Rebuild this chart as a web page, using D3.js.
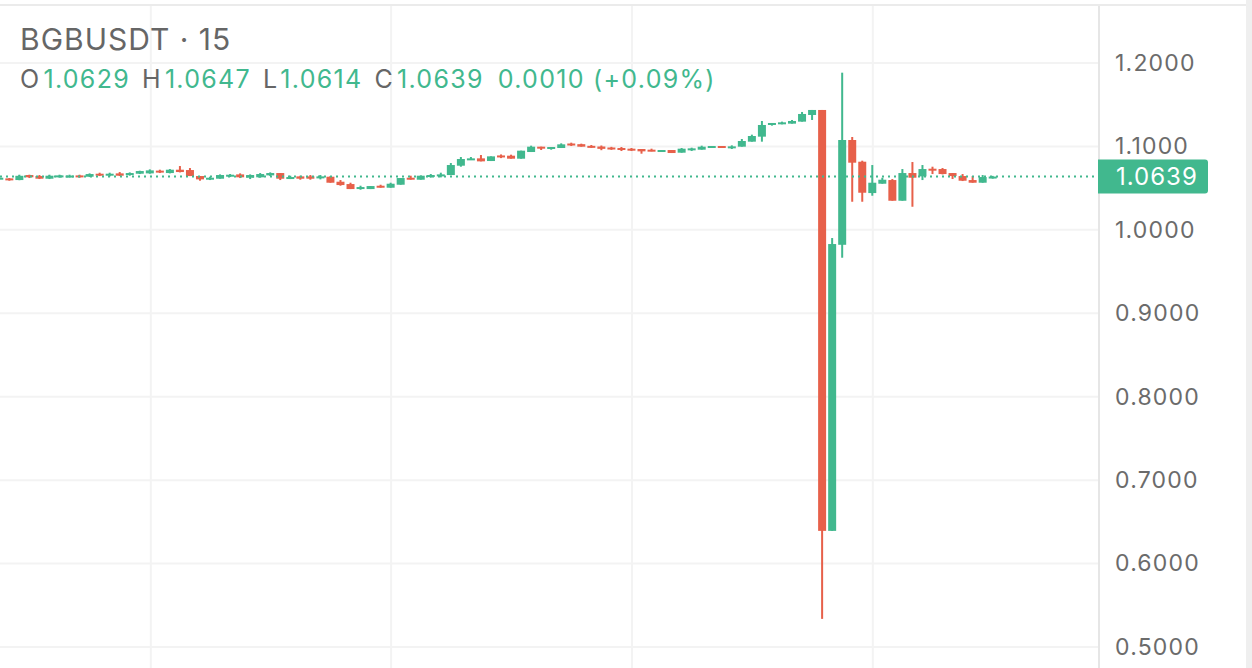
<!DOCTYPE html>
<html>
<head>
<meta charset="utf-8">
<script src="https://cdn.jsdelivr.net/npm/d3@7"></script>
<style>
  html, body { margin: 0; padding: 0; background: #fff; }
  svg { display: block; font-family: Inter, "Noto Sans", sans-serif; }
</style>
</head>
<body>
<svg width="1252" height="668"></svg>
<script>
// BGBUSDT 15m candles, oldest first
var opens = [
  1.0615, 1.0617, 1.0597, 1.0657, 1.0645, 1.0613, 1.0633, 1.0633, 1.0653, 1.0637,
  1.0673, 1.0650, 1.0677, 1.0657, 1.0673, 1.0677, 1.0710, 1.0681, 1.0721, 1.0717,
  1.0645, 1.0601, 1.0613, 1.0637, 1.0665, 1.0625, 1.0630, 1.0653, 1.0681, 1.0613,
  1.0641, 1.0641, 1.0617, 1.0637, 1.0577, 1.0549, 1.0489, 1.0489, 1.0529, 1.0505,
  1.0541, 1.0625, 1.0601, 1.0633, 1.0641, 1.0657, 1.0769, 1.0837, 1.0857, 1.0825,
  1.0892, 1.0889, 1.0853, 1.0933, 1.0997, 1.0973, 1.0981, 1.1035, 1.1027, 1.1007,
  1.0999, 1.0987, 1.0981, 1.0973, 1.0969, 1.0961, 1.0937, 1.0957, 1.0925, 1.0953,
  1.0961, 1.0985, 1.1005, 1.0981, 1.0997, 1.1057, 1.1117, 1.1261, 1.1265, 1.1273,
  1.1297, 1.1377, 1.1437, 0.6392, 0.9821, 1.1077, 1.0817, 1.0441, 1.0553, 1.0597,
  1.0349, 1.0681, 1.0641, 1.0733, 1.0729, 1.0681, 1.0645, 1.0597, 1.0565, 1.0629
];
var highs = [
  1.0630, 1.0621, 1.0661, 1.0661, 1.0657, 1.0661, 1.0661, 1.0661, 1.0661, 1.0677,
  1.0685, 1.0685, 1.0693, 1.0689, 1.0709, 1.0725, 1.0721, 1.0729, 1.0765, 1.0741,
  1.0645, 1.0637, 1.0665, 1.0669, 1.0677, 1.0665, 1.0681, 1.0689, 1.0681, 1.0649,
  1.0649, 1.0657, 1.0657, 1.0645, 1.0597, 1.0565, 1.0529, 1.0525, 1.0541, 1.0565,
  1.0621, 1.0649, 1.0649, 1.0669, 1.0685, 1.0801, 1.0873, 1.0873, 1.0897, 1.0881,
  1.0904, 1.0901, 1.0949, 1.1009, 1.0997, 1.0993, 1.1037, 1.1045, 1.1033, 1.1017,
  1.1011, 1.0995, 1.0993, 1.0981, 1.0969, 1.0973, 1.0957, 1.0957, 1.0981, 1.0985,
  1.1009, 1.1005, 1.1005, 1.1013, 1.1089, 1.1141, 1.1305, 1.1281, 1.1297, 1.1317,
  1.1413, 1.1437, 1.1437, 0.9902, 1.1884, 1.1113, 1.0829, 1.0777, 1.0625, 1.0609,
  1.0729, 1.0813, 1.0777, 1.0757, 1.0741, 1.0681, 1.0669, 1.0645, 1.0657, 1.0647
];
var lows = [
  1.0610, 1.0589, 1.0595, 1.0621, 1.0609, 1.0609, 1.0625, 1.0627, 1.0625, 1.0633,
  1.0645, 1.0641, 1.0645, 1.0649, 1.0669, 1.0673, 1.0681, 1.0677, 1.0689, 1.0645,
  1.0589, 1.0597, 1.0613, 1.0633, 1.0621, 1.0609, 1.0625, 1.0645, 1.0597, 1.0609,
  1.0601, 1.0601, 1.0605, 1.0565, 1.0529, 1.0489, 1.0481, 1.0489, 1.0505, 1.0505,
  1.0541, 1.0601, 1.0601, 1.0625, 1.0629, 1.0657, 1.0757, 1.0837, 1.0821, 1.0825,
  1.0860, 1.0853, 1.0853, 1.0933, 1.0957, 1.0961, 1.0981, 1.1005, 1.0997, 1.0983,
  1.0955, 1.0959, 1.0945, 1.0945, 1.0913, 1.0941, 1.0937, 1.0921, 1.0925, 1.0945,
  1.0961, 1.0985, 1.0985, 1.0969, 1.0997, 1.1057, 1.1057, 1.1249, 1.1265, 1.1273,
  1.1297, 1.1317, 0.5337, 0.6392, 0.9666, 1.0337, 1.0337, 1.0409, 1.0553, 1.0349,
  1.0349, 1.0277, 1.0597, 1.0669, 1.0665, 1.0609, 1.0585, 1.0565, 1.0565, 1.0614
];
var closes = [
  1.0625, 1.0596, 1.0648, 1.0630, 1.0613, 1.0649, 1.0653, 1.0651, 1.0630, 1.0669,
  1.0649, 1.0673, 1.0649, 1.0681, 1.0705, 1.0713, 1.0687, 1.0721, 1.0693, 1.0645,
  1.0605, 1.0625, 1.0657, 1.0661, 1.0630, 1.0657, 1.0669, 1.0681, 1.0613, 1.0633,
  1.0613, 1.0613, 1.0641, 1.0565, 1.0537, 1.0489, 1.0513, 1.0525, 1.0505, 1.0553,
  1.0621, 1.0601, 1.0649, 1.0657, 1.0665, 1.0777, 1.0849, 1.0857, 1.0821, 1.0881,
  1.0868, 1.0853, 1.0949, 1.0997, 1.0973, 1.0993, 1.1025, 1.1012, 1.0997, 1.0983,
  1.0971, 1.0967, 1.0957, 1.0953, 1.0941, 1.0941, 1.0957, 1.0921, 1.0973, 1.0977,
  1.0997, 1.1005, 1.0985, 1.1001, 1.1065, 1.1125, 1.1257, 1.1281, 1.1289, 1.1305,
  1.1389, 1.1437, 0.6392, 0.9830, 1.1077, 1.0805, 1.0445, 1.0565, 1.0601, 1.0349,
  1.0681, 1.0625, 1.0729, 1.0717, 1.0669, 1.0645, 1.0589, 1.0565, 1.0633, 1.0639
];

var priceTicks = [0.5, 0.6, 0.7, 0.8, 0.9, 1.0, 1.1, 1.2];
var timeGridIndex = [15.1, 39.05, 63.05, 87.05];   // 6h session grid
var symbol = "BGBUSDT \u00b7 15";
var lastPrice = 1.0639;
var change = "0.0010 (+0.09%)";

var UP = "#41b88e", DOWN = "#e7604a";

var svg = d3.select("svg"),
    plotRight = 1098,
    plotTop = 63, plotBottom = 647;

var candles = opens.map(function (o, i) {
    return {i: i, o: o, h: highs[i], l: lows[i], c: closes[i]};
});

var x = d3.scaleLinear().domain([0, candles.length - 1]).range([-0.7, 992.7]);
var y = d3.scaleLinear().domain([0.5, 1.2]).range([plotBottom, plotTop]);

// frame lines
svg.append("rect").attr("x", 0).attr("y", 4).attr("width", 1246).attr("height", 2).attr("fill", "#ebebeb");
svg.append("rect").attr("x", 1246).attr("y", 0).attr("width", 6).attr("height", 668).attr("fill", "#efefef");

// grid
var grid = svg.append("g").attr("class", "grid");
grid.selectAll(".hgrid").data(priceTicks).enter().append("line")
    .attr("x1", 0).attr("x2", plotRight)
    .attr("y1", function (d) { return y(d); })
    .attr("y2", function (d) { return y(d); })
    .attr("stroke", "#f3f3f3").attr("stroke-width", 2);
grid.selectAll(".vgrid").data(timeGridIndex).enter().append("line")
    .attr("x1", function (d) { return x(d); })
    .attr("x2", function (d) { return x(d); })
    .attr("y1", 6).attr("y2", 668)
    .attr("stroke", "#f3f3f3").attr("stroke-width", 2);

// right axis
svg.append("line").attr("x1", 1099).attr("x2", 1099).attr("y1", 6).attr("y2", 668)
    .attr("stroke", "#e6e6e6").attr("stroke-width", 2);

var axis = svg.append("g")
    .attr("transform", "translate(1115,0)")
    .call(d3.axisRight(y).tickValues(priceTicks).tickFormat(d3.format(".4f")).tickSize(0).tickPadding(0));
axis.select(".domain").remove();
axis.selectAll("text")
    .attr("fill", "#6b6b6b")
    .style("font-size", "23px")
    .style("letter-spacing", "1.2px")
    .style("font-family", "Inter, sans-serif");

// candles
var gc = svg.append("g").attr("class", "candles");
var bodyW = 8;
gc.selectAll(".wick").data(candles).enter().append("rect")
    .attr("x", function (d) { return x(d.i) - 1; })
    .attr("width", 2)
    .attr("y", function (d) { return y(d.h); })
    .attr("height", function (d) { return Math.max(1, y(d.l) - y(d.h)); })
    .attr("fill", function (d) { return d.c >= d.o ? UP : DOWN; });
gc.selectAll(".body").data(candles).enter().append("rect")
    .attr("x", function (d) { return x(d.i) - bodyW / 2; })
    .attr("width", bodyW)
    .attr("y", function (d) { return y(Math.max(d.o, d.c)); })
    .attr("height", function (d) { return Math.max(2, Math.abs(y(d.o) - y(d.c))); })
    .attr("fill", function (d) { return d.c >= d.o ? UP : DOWN; });

// last price line + label
svg.append("line")
    .attr("x1", 0).attr("x2", plotRight)
    .attr("y1", y(lastPrice)).attr("y2", y(lastPrice))
    .attr("stroke", UP).attr("stroke-width", 2).attr("stroke-dasharray", "2,4");

var lbl = svg.append("g").attr("transform", "translate(1098," + y(lastPrice) + ")");
lbl.append("path")
    .attr("d", "M0,-17 H107 a3,3 0 0 1 3,3 V14 a3,3 0 0 1 -3,3 H0 Z")
    .attr("fill", UP);
lbl.append("text").attr("x", 18).attr("y", 8)
    .attr("fill", "#fff").style("font-size", "24px")
    .style("letter-spacing", "1px")
    .text(d3.format(".4f")(lastPrice));

// legend
svg.append("text").attr("x", 20).attr("y", 50)
    .attr("fill", "#666").style("font-size", "30px")
    .style("letter-spacing", "1px")
    .text(symbol);

var last = candles[candles.length - 1];
var ohlc = [["O", last.o], ["H", last.h], ["L", last.l], ["C", last.c]];
var leg = svg.append("text").attr("x", 20).attr("y", 88)
    .style("font-size", "25px").style("letter-spacing", "1.3px");
ohlc.forEach(function (p, k) {
    leg.append("tspan").attr("fill", "#666").attr("dx", k ? 12 : 0).text(p[0]);
    leg.append("tspan").attr("fill", UP).attr("dx", 3).text(d3.format(".4f")(p[1]));
});
leg.append("tspan").attr("fill", UP).attr("dx", 14).text(change);
</script>
</body>
</html>
